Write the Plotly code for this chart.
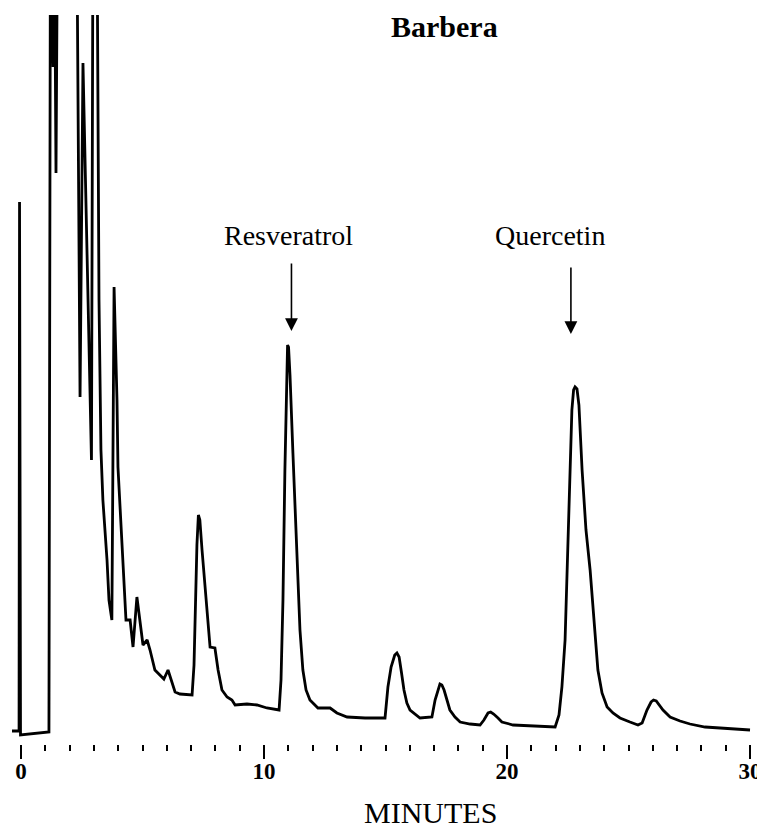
import plotly.graph_objects as go

# Chromatogram trace (retention time in minutes, detector signal in arbitrary units)
# Values above 720 are off-scale (clipped by the recorder).
time_min = [
    -0.37, -0.08, -0.06, -0.02, 1.15, 1.21, 1.32, 1.38, 1.44, 1.50,
    2.30, 2.43, 2.55, 2.90, 2.96, 3.13, 3.21, 3.29, 3.37, 3.54,
    3.62, 3.74, 3.83, 3.95, 3.99, 4.16, 4.28, 4.32, 4.49, 4.61,
    4.77, 4.90, 5.02, 5.19, 5.31, 5.51, 5.72, 5.88, 6.05, 6.17,
    6.34, 6.54, 7.04, 7.12, 7.18, 7.24, 7.30, 7.36, 7.45, 7.61, 7.78, 7.98,
    8.11, 8.27, 8.48, 8.68, 8.81, 9.30, 9.71, 10.12, 10.62, 10.70,
    10.78, 10.86, 10.93, 10.97, 11.01, 11.07, 11.19, 11.32, 11.40, 11.48, 11.60,
    11.73, 11.89, 12.22, 12.72, 13.00, 13.42, 14.16, 14.98, 15.10, 15.23,
    15.38, 15.47, 15.56, 15.66, 15.76, 15.88, 16.01, 16.42, 16.91, 17.04, 17.16, 17.24, 17.32,
    17.41, 17.53, 17.65, 17.86, 18.07, 18.48, 18.89, 19.05, 19.22, 19.33, 19.45,
    19.63, 19.79, 20.25, 20.95, 21.98, 22.14, 22.26, 22.39, 22.51, 22.59,
    22.67, 22.74, 22.80, 22.88, 22.96, 23.09, 23.25, 23.42, 23.58, 23.74, 23.91, 24.12,
    24.36, 24.65, 25.06, 25.39, 25.56, 25.76, 25.93, 26.03, 26.14, 26.26, 26.42,
    26.71, 27.12, 27.53, 28.15, 28.77, 29.38, 30.00,
]
signal = [
    4, 4, 533, 0, 3, 800, 668, 800, 562, 800,
    800, 338, 672, 275, 800, 800, 435, 285, 235, 175,
    135, 115, 448, 335, 268, 185, 128, 115, 115, 88,
    138, 115, 90, 95, 85, 65, 60, 56, 65, 55,
    43, 41, 40, 70, 135, 190, 220, 215, 185, 135, 88, 87,
    65, 45, 38, 35, 30, 31, 30, 27, 25, 55,
    135, 265, 365, 390, 388, 360, 282, 195, 148, 105, 65,
    45, 35, 27, 27, 22, 18, 17, 17, 48, 68,
    80, 82, 78, 62, 45, 32, 25, 17, 18, 35, 46, 51, 50,
    45, 35, 25, 18, 13, 11, 10, 15, 22, 23, 21,
    17, 13, 10, 9, 8, 20, 48, 95, 195, 265,
    325, 345, 348, 346, 330, 265, 205, 165, 110, 65, 42, 28,
    22, 17, 13, 10, 12, 25, 33, 35, 34, 30, 25,
    18, 14, 11, 8, 7, 6, 5,
]

# Axis ticks
major_ticks = [0, 10, 20, 30]
major_labels = ["0", "10", "20", "30"]

# Peak annotations
peak_names = ["Resveratrol", "Quercetin"]
peak_label_x = [11.0, 21.75]
peak_label_y = [500, 500]
arrow_x = [11.13, 22.63]
arrow_tail_y = [473, 469]
arrow_tip_y = [404, 401]

title_text = "Barbera"
x_title = "MINUTES"

SERIF = "Liberation Serif, Times New Roman, serif"

fig = go.Figure()
fig.add_trace(go.Scatter(
    x=time_min, y=signal, mode="lines",
    line=dict(color="black", width=2.8),
    hoverinfo="skip", showlegend=False,
))

for name, lx, ly, ax_, ty, hy in zip(peak_names, peak_label_x, peak_label_y,
                                     arrow_x, arrow_tail_y, arrow_tip_y):
    fig.add_annotation(x=lx, y=ly, text=name, showarrow=False,
                       xref="x", yref="y", xanchor="center", yanchor="middle",
                       font=dict(family=SERIF, size=28, color="black"))
    fig.add_annotation(x=ax_, y=hy, ax=ax_, ay=ty, axref="x", ayref="y",
                       xref="x", yref="y", text="", showarrow=True,
                       arrowhead=2, arrowsize=1.6, arrowwidth=1.6,
                       arrowcolor="black")

fig.add_annotation(x=17.41, y=1.0096, text="<b>" + title_text + "</b>", showarrow=False,
                   xref="x", yref="paper", xanchor="center", yanchor="top",
                   font=dict(family=SERIF, size=30, color="black"))

fig.add_annotation(x=16.87, y=-0.1193, text=x_title, showarrow=False,
                   xref="x", yref="paper", xanchor="center", yanchor="bottom",
                   font=dict(family=SERIF, size=30, color="black"))

# the page adds an 8 px body margin, so the figure is 757x823
fig.update_layout(
    width=757, height=823,
    margin=dict(l=0, r=0, t=7, b=87),
    paper_bgcolor="white", plot_bgcolor="white",
    showlegend=False,
)
fig.update_xaxes(
    range=[-0.535, 30.617],
    automargin=False,
    tickmode="array", tickvals=major_ticks, ticktext=major_labels,
    ticks="outside", ticklen=14, tickwidth=2, tickcolor="black",
    ticklabelstandoff=-8,
    minor=dict(dtick=1, tick0=0, ticks="outside", ticklen=6, tickwidth=2,
               tickcolor="black", showgrid=False),
    tickfont=dict(family=SERIF, size=23, color="black", weight="bold"),
    showline=False, showgrid=False, zeroline=False,
    fixedrange=True,
)
fig.update_yaxes(
    range=[-9, 720], visible=False, showgrid=False, zeroline=False,
    automargin=False, fixedrange=True,
)

fig.write_html("out.html")
